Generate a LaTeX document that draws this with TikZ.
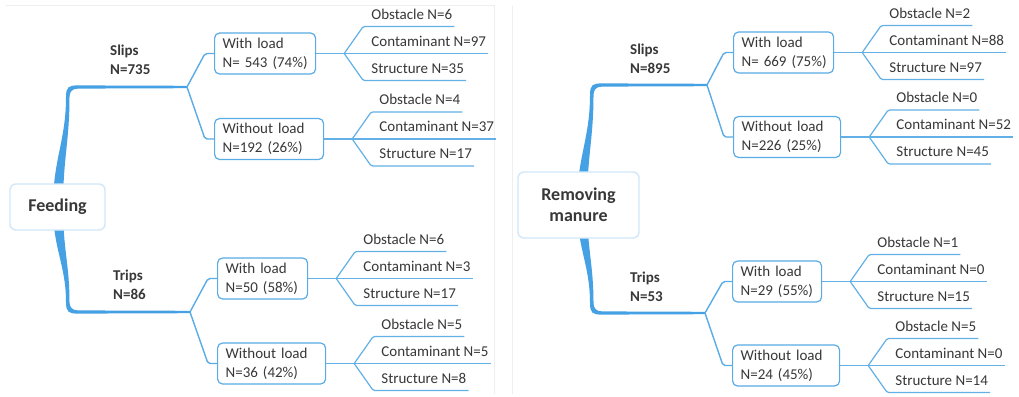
\documentclass[tikz,border=0pt]{standalone}
\usepackage{fontspec}
\setmainfont{Carlito}
\usetikzlibrary{calc}
\definecolor{lineblue}{HTML}{62B0E6}
\definecolor{boxblue}{HTML}{5AACE6}
\definecolor{trunkblue}{HTML}{45A0E4}
\definecolor{rootborder}{HTML}{D2E7F8}
\definecolor{textgray}{HTML}{383838}
\definecolor{framegray}{HTML}{EEEEEE}
\tikzset{
  box/.style={draw=boxblue, line width=1.2pt, rounded corners=5pt, fill=white,
    inner xsep=8pt, inner ysep=0pt, minimum height=41pt, align=left,
    text width=#1, font=\fontsize{15}{19}\selectfont, text=textgray, anchor=west},
  rootbox/.style={draw=rootborder, line width=1.4pt, rounded corners=6pt, fill=white,
    align=center, font=\bfseries\fontsize{18}{21}\selectfont, text=textgray},
  leaf/.style={inner sep=0pt, text height=10pt, text depth=7pt,
    font=\fontsize{15}{19}\selectfont, text=textgray},
  catlabel/.style={anchor=west, align=left, inner sep=0pt,
    font=\bfseries\fontsize{15}{19}\selectfont, text=textgray},
  conn/.style={draw=boxblue, line width=1.4pt, rounded corners=2pt},
  leafline/.style={draw=lineblue, line width=1.2pt, rounded corners=1.5pt},
}
\newcommand\bx[2]{\mbox{#1}\\\mbox{#2}}
\newcommand\trunkpath[4]{%
  \pgfmathsetmacro\ts{(#3>#2)?1:-1}%
  \pgfmathsetmacro\tD{abs(#3-#2)}%
  \fill[trunkblue]
   ({#1-5},{#2})
   .. controls ({#1-5},{#2+\ts*0.4*\tD}) and ({#1+8},{#3-\ts*0.45*\tD}) .. ({#1+8},{#3-\ts*10})
   .. controls ({#1+8},{#3+\ts*0.5}) and ({#1+11},{#3+\ts*1.6}) .. ({#1+20},{#3+\ts*1.6})
   -- ({#4},{#3+\ts*1.2}) -- ({#4},{#3-\ts*1.2}) -- ({#1+20},{#3-\ts*1.6})
   .. controls ({#1+14},{#3-\ts*1.6}) and ({#1+11.5},{#3-\ts*5}) .. ({#1+11.5},{#3-\ts*10})
   .. controls ({#1+11.5},{#3-\ts*0.45*\tD}) and ({#1+5},{#2+\ts*0.4*\tD}) .. ({#1+5},{#2})
   -- cycle;
}
\newcommand\leafs[5]{%
  \coordinate (#2f) at ([xshift=28pt]#1.east);
  \node[leaf,anchor=south west] (#2a) at ([shift={(27pt,27pt)}]#2f) {#3};
  \node[leaf,anchor=south west] (#2b) at ([shift={(27pt,0pt)}]#2f) {#4};
  \node[leaf,anchor=south west] (#2c) at ([shift={(27pt,-27pt)}]#2f) {#5};
  \draw[leafline] (#1.east) -- (#2f);
  \draw[leafline] (#2f) -- ([xshift=-8pt]#2a.south west) -- ([xshift=2pt]#2a.south east);
  \draw[leafline] (#2f) -- ([xshift=2pt]#2b.south east);
  \draw[leafline] (#2f) -- ([xshift=-8pt]#2c.south west) -- ([xshift=2pt]#2c.south east);
}
\begin{document}
\begin{tikzpicture}[x=1pt,y=-1pt]
\useasboundingbox (0,0) rectangle (1019,396);
\fill[white] (0,0) rectangle (1019,396);
% faint panel frames
\draw[framegray, line width=1pt] (6,6) -- (494,6) -- (494,394);
\draw[framegray, line width=1pt] (512,6) -- (512,394);

% ---------- left panel: Feeding ----------
\coordinate (LS) at (187,87);
\coordinate (LT) at (190,312);
\trunkpath{58}{207}{87}{187}
\trunkpath{58}{207}{312}{190}
\node[rootbox, minimum width=95pt, minimum height=46pt] (feed) at (57.5,207) {Feeding};

\node[catlabel] (slipsL) at (110,59.5) {Slips\\N=735};
\node[catlabel] (tripsL) at (113,284.5) {Trips\\N=86};

\node[box=85pt] (LSW) at (214,53.5) {\bx{With load}{N= 543 (74\%)}};
\node[box=93pt] (LSO) at (214,139) {\bx{Without load}{N=192 (26\%)}};
\node[box=74pt] (LTW) at (217,278.5) {\bx{With load}{N=50 (58\%)}};
\node[box=92pt] (LTO) at (217,363.5) {\bx{Without load}{N=36 (42\%)}};

\draw[conn] (LS) -- ([xshift=-9pt]LSW.west) -- (LSW.west);
\draw[conn] (LS) -- ([xshift=-9pt]LSO.west) -- (LSO.west);
\draw[conn] (LT) -- ([xshift=-9pt]LTW.west) -- (LTW.west);
\draw[conn] (LT) -- ([xshift=-9pt]LTO.west) -- (LTO.west);

\leafs{LSW}{l1}{Obstacle N=6}{Contaminant N=97}{Structure N=35}
\leafs{LSO}{l2}{Obstacle N=4}{Contaminant N=37}{Structure N=17}
\leafs{LTW}{l3}{Obstacle N=6}{Contaminant N=3}{Structure N=17}
\leafs{LTO}{l4}{Obstacle N=5}{Contaminant N=5}{Structure N=8}

% ---------- right panel: Removing manure ----------
\coordinate (RS) at (707,85);
\coordinate (RT) at (705,313);
\trunkpath{582}{205}{85}{707}
\trunkpath{582}{205}{313}{705}
\node[rootbox, minimum width=121pt, minimum height=66pt] (manure) at (578.5,205) {Removing\\manure};

\node[catlabel] (slipsR) at (630,58.5) {Slips\\N=895};
\node[catlabel] (tripsR) at (630,287) {Trips\\N=53};

\node[box=84pt] (RSW) at (733,52.5) {\bx{With load}{N= 669 (75\%)}};
\node[box=91pt] (RSO) at (733,137) {\bx{Without load}{N=226 (25\%)}};
\node[box=73pt] (RTW) at (732,281.5) {\bx{With load}{N=29 (55\%)}};
\node[box=91pt] (RTO) at (732,365.5) {\bx{Without load}{N=24 (45\%)}};

\draw[conn] (RS) -- ([xshift=-9pt]RSW.west) -- (RSW.west);
\draw[conn] (RS) -- ([xshift=-9pt]RSO.west) -- (RSO.west);
\draw[conn] (RT) -- ([xshift=-9pt]RTW.west) -- (RTW.west);
\draw[conn] (RT) -- ([xshift=-9pt]RTO.west) -- (RTO.west);

\leafs{RSW}{r1}{Obstacle N=2}{Contaminant N=88}{Structure N=97}
\leafs{RSO}{r2}{Obstacle N=0}{Contaminant N=52}{Structure N=45}
\leafs{RTW}{r3}{Obstacle N=1}{Contaminant N=0}{Structure N=15}
\leafs{RTO}{r4}{Obstacle N=5}{Contaminant N=0}{Structure N=14}
\end{tikzpicture}
\end{document}
